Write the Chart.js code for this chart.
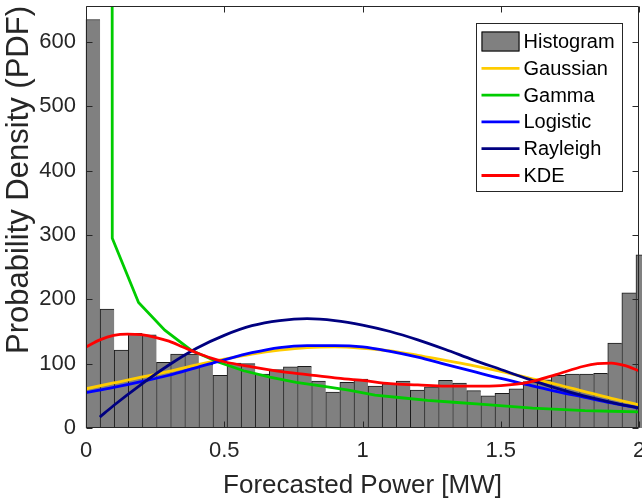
<!DOCTYPE html>
<html><head><meta charset="utf-8">
<script src="https://cdn.jsdelivr.net/npm/chart.js@4.4.0/dist/chart.umd.min.js"></script>
<style>
html,body{margin:0;padding:0;overflow:hidden;background:#fff;width:642px;height:504px}
#wrap{position:absolute;left:0;top:0;width:660px;height:504px}
</style></head><body>
<div id="wrap"><canvas id="c"></canvas></div>
<script>
// ---- data ----
const binStart = 0;
const binWidth = 0.051;
const histCounts = [635,185,121,147,145,102,115,115,99,82,101,100,84,91,95,96,73,56,71,76,65,69,73,59,64,74,70,58,50,54,61,72,75,82,84,84,85,132,210,269];

const fitX = [0,0.1,0.2,0.3,0.4,0.5,0.6,0.7,0.8,0.9,1.0,1.1,1.2,1.3,1.4,1.5,1.6,1.7,1.8,1.9,2.0];
const gaussY = [61,70,79,88,98,107,115,121,125,126,124,120,113,105,97,88,78,68,57,46,36];
const logisticY = [55,63,72,82,94,106,117,125,128,128,126,119,110,99,88,77,67,57,48,39,31];

const rayX = [0.05,0.1,0.2,0.3,0.4,0.5,0.6,0.7,0.8,0.9,1.0,1.1,1.2,1.3,1.4,1.5,1.6,1.7,1.8,1.9,2.0];
const rayY = [17,35,68,98,124,144,159,167,170,167,160,150,137,122,106,91,76,62,50,40,31];

const gammaX = [0.094,0.095,0.19,0.285,0.38,0.475,0.57,0.665,0.76,0.855,0.95,1.045,1.14,1.235,1.33,1.425,1.52,1.615,1.71,1.805,1.9,2.0];
const gammaY = [1500,295,195,152,121,103,89,79,71,65,59,51,47,43,40,37,34,31,29,27,26,25];

const kdeX = [0,0.05,0.1,0.15,0.2,0.25,0.3,0.35,0.4,0.45,0.5,0.6,0.7,0.8,0.9,1.0,1.1,1.2,1.3,1.4,1.5,1.6,1.7,1.8,1.85,1.9,1.95,2.0];
const kdeY = [126,137,144,146,145,141,135,126,117,109,103,95,88,83,78,74,69,67,65,65,66,71,83,96,100,101,97,89];

const xTicks = [0,0.5,1,1.5,2];
const yTicks = [0,100,200,300,400,500,600];
const xTickLabels = ['0','0.5','1','1.5','2'];
const yTickLabels = ['0','100','200','300','400','500','600'];
const xTitle = 'Forecasted Power [MW]';
const yTitle = 'Probability Density (PDF)';

// ---- styling ----
const FONT = "'Liberation Sans', Arial, Helvetica, sans-serif";
const AX = '#262626';
const colors = {Gaussian:'#FFCC00', Gamma:'#00CC00', Logistic:'#0000FF', Rayleigh:'#000080', KDE:'#FF0000'};
const pts = (xs, ys) => xs.map((x,i)=>({x:x, y:ys[i]}));

const lineDs = (label, xs, ys, order, smooth) => ({
  type:'line', label:label, data:pts(xs,ys), borderColor:colors[label], backgroundColor:colors[label],
  borderWidth:2.8, pointRadius:0, fill:false, order:order,
  cubicInterpolationMode: smooth ? 'monotone' : 'default', tension:0
});

const datasets = [
  {type:'bar', label:'Histogram',
   data: histCounts.map((v,i)=>({x: binStart + (i+0.5)*binWidth, y: v})),
   backgroundColor:'#808080', borderColor:'#1a1a1a',
   borderWidth:{top:1,left:1,right:0,bottom:0}, borderSkipped:'start',
   barPercentage:1, categoryPercentage:1, clip:false, order:6},
  lineDs('Gaussian', fitX, gaussY, 5, true),
  lineDs('Gamma', gammaX, gammaY, 4, false),
  lineDs('Logistic', fitX, logisticY, 3, true),
  lineDs('Rayleigh', rayX, rayY, 2, true),
  lineDs('KDE', kdeX, kdeY, 1, true)
];

// inward ticks + box
const axesBox = {
  id:'axesBox',
  afterDatasetsDraw(chart){
    const {ctx, chartArea:a, scales} = chart;
    ctx.save();
    ctx.strokeStyle = AX; ctx.lineWidth = 1;
    const L = Math.round(a.left)+0.5, R = Math.round(a.right)-0.5, T = Math.round(a.top)+0.5, B = Math.round(a.bottom)-0.5;
    ctx.beginPath();
    ctx.rect(L, T, R-L, B-T);
    const tl = 6;
    xTicks.forEach(v=>{
      const px = Math.round(scales.x.getPixelForValue(v))+0.5;
      ctx.moveTo(px,B); ctx.lineTo(px,B-tl);
      ctx.moveTo(px,T); ctx.lineTo(px,T+tl);
    });
    yTicks.forEach(v=>{
      const py = Math.round(scales.y.getPixelForValue(v))+0.5;
      ctx.moveTo(L,py); ctx.lineTo(L+tl,py);
      ctx.moveTo(R,py); ctx.lineTo(R-tl,py);
    });
    ctx.stroke();
    ctx.restore();
  }
};

// MATLAB-style legend box
const mlLegend = {
  id:'mlLegend',
  afterDraw(chart){
    const {ctx, chartArea:a} = chart;
    const bx = Math.round(a.right) - 162.5, by = 23.5, bw = 146, bh = 168;
    ctx.save();
    ctx.fillStyle = '#fff'; ctx.fillRect(bx, by, bw, bh);
    ctx.strokeStyle = AX; ctx.lineWidth = 1; ctx.strokeRect(bx, by, bw, bh);
    ctx.font = "20px " + FONT;
    ctx.textBaseline = 'middle'; ctx.textAlign = 'left';
    const step = 26.8, y0 = 41.5, sx0 = bx + 5, sx1 = bx + 43, tx = bx + 47;
    chart.data.datasets.forEach((ds, i)=>{
      const y = y0 + i*step;
      if (ds.type === 'bar') {
        ctx.fillStyle = '#808080'; ctx.fillRect(sx0, y-10, sx1-sx0, 20);
        ctx.strokeStyle = '#000'; ctx.lineWidth = 1; ctx.strokeRect(sx0+0.5, y-10+0.5, sx1-sx0-1, 19);
      } else {
        ctx.strokeStyle = ds.borderColor; ctx.lineWidth = 2.8;
        ctx.beginPath(); ctx.moveTo(sx0, y); ctx.lineTo(sx1, y); ctx.stroke();
      }
      ctx.fillStyle = '#000';
      ctx.fillText(ds.label, tx, y+1);
    });
    ctx.restore();
  }
};

new Chart(document.getElementById('c'), {
  type:'bar',
  data:{datasets:datasets},
  options:{
    responsive:true, maintainAspectRatio:false, animation:false, devicePixelRatio:1,
    layout:{padding:{left:0,right:21,top:6,bottom:0}},
    plugins:{legend:{display:false}, tooltip:{enabled:false}},
    scales:{
      x:{type:'linear', min:0, max:2, offset:false,
         grid:{display:false, drawTicks:false, offset:false}, border:{display:false},
         ticks:{stepSize:0.5, color:AX, font:{family:FONT, size:22}, padding:10, maxRotation:0,
                callback:(v)=>xTickLabels[xTicks.indexOf(v)]},
         afterBuildTicks(s){ s.ticks = xTicks.map(v=>({value:v})); },
         afterFit(s){ s.height = 76; s.paddingLeft=0; s.paddingRight=0; s.paddingTop=0; s.paddingBottom=0; },
         title:{display:true, text:xTitle, color:AX, font:{family:FONT, size:26}, padding:{top:0,bottom:3}}},
      y:{type:'linear', min:0, max:656,
         grid:{display:false, drawTicks:false}, border:{display:false},
         ticks:{stepSize:100, color:AX, font:{family:FONT, size:22}, padding:10,
                callback:(v)=>yTickLabels[yTicks.indexOf(v)]},
         afterBuildTicks(s){ s.ticks = yTicks.map(v=>({value:v})); },
         afterFit(s){ s.width = 86; s.paddingLeft=0; s.paddingRight=0; s.paddingTop=0; s.paddingBottom=0; },
         title:{display:true, text:yTitle, color:AX, font:{family:FONT, size:31}, align:'end', padding:{top:1,bottom:0}}}
    }
  },
  plugins:[axesBox, mlLegend]
});
</script>
</body></html>
